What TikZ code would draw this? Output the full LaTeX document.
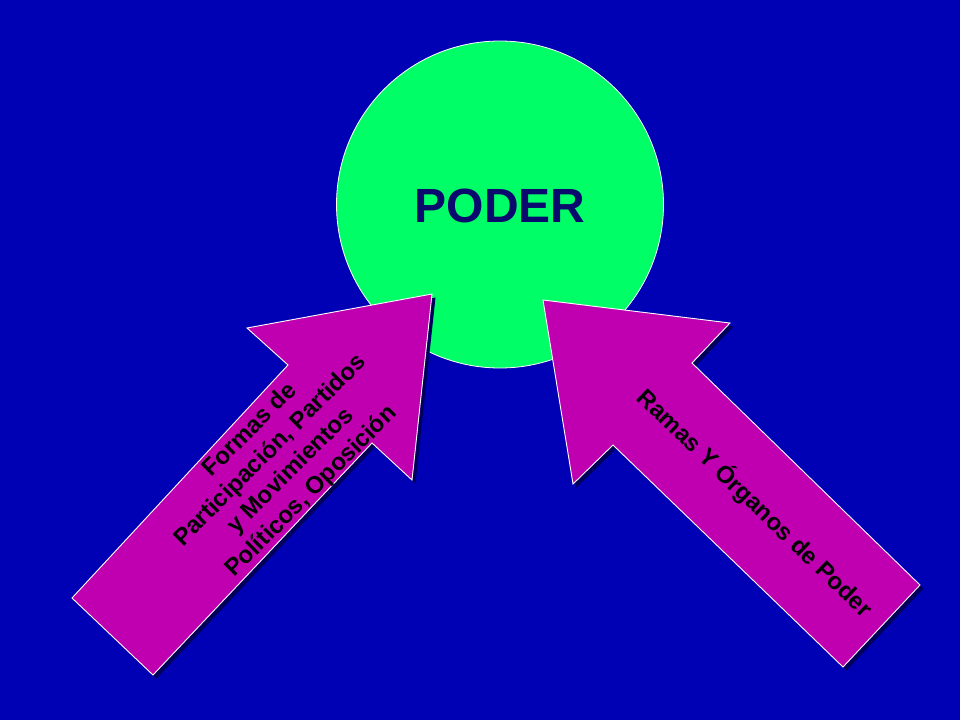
\documentclass[tikz,border=0pt]{standalone}
\usepackage{fontspec}
\setmainfont{Liberation Sans}
\definecolor{bgblue}{RGB}{0,0,180}
\definecolor{pgreen}{RGB}{0,255,102}
\definecolor{pmag}{RGB}{192,0,176}
\definecolor{shadowc}{RGB}{0,0,90}
\definecolor{navytext}{RGB}{10,10,110}
\begin{document}
\begin{tikzpicture}[x=1pt,y=-1pt,
  blockarrow/.style={fill=pmag,draw=white,line width=0.9pt,line join=miter},
  arrowshadow/.style={fill=shadowc,draw=none},
  arrowlabel/.style={font=\bfseries\fontsize{24}{29}\selectfont,text=black,align=center,inner sep=0pt}]
\fill[bgblue] (0,0) rectangle (960,720);
\useasboundingbox (0,0) rectangle (960,720);
% circle
\node[circle,fill=pgreen,draw=white,line width=0.8pt,minimum size=327pt,inner sep=0pt] (poder) at (500,204.5) {};
\node[font=\bfseries\fontsize{48}{56}\selectfont,text=navytext] (podertxt) at (500,206) {PODER};
% left arrow
\begin{scope}[shift={(3.5,3.5)}]
\fill[arrowshadow] (432,294) -- (412,480) -- (372,443) -- (153,675) -- (72,598) -- (288,365) -- (247,328) -- cycle;
\end{scope}
\draw[blockarrow] (432,294) -- (412,480) -- (372,443) -- (153,675) -- (72,598) -- (288,365) -- (247,328) -- cycle;
% right arrow
\begin{scope}[shift={(3.5,3.5)}]
\fill[arrowshadow] (543,300) -- (730,323) -- (692,363) -- (920,585) -- (843,667) -- (613,445) -- (573,484) -- cycle;
\end{scope}
\draw[blockarrow] (543,300) -- (730,323) -- (692,363) -- (920,585) -- (843,667) -- (613,445) -- (573,484) -- cycle;
% labels
\node[arrowlabel,rotate=45] (ltxt) at (281,461) {Formas de\\Participación, Partidos\\y Movimientos\\Políticos, Oposición};
\node[arrowlabel,rotate=-44] (rtxt) at (755,503) {Ramas Y Órganos de Poder};
\end{tikzpicture}
\end{document}
